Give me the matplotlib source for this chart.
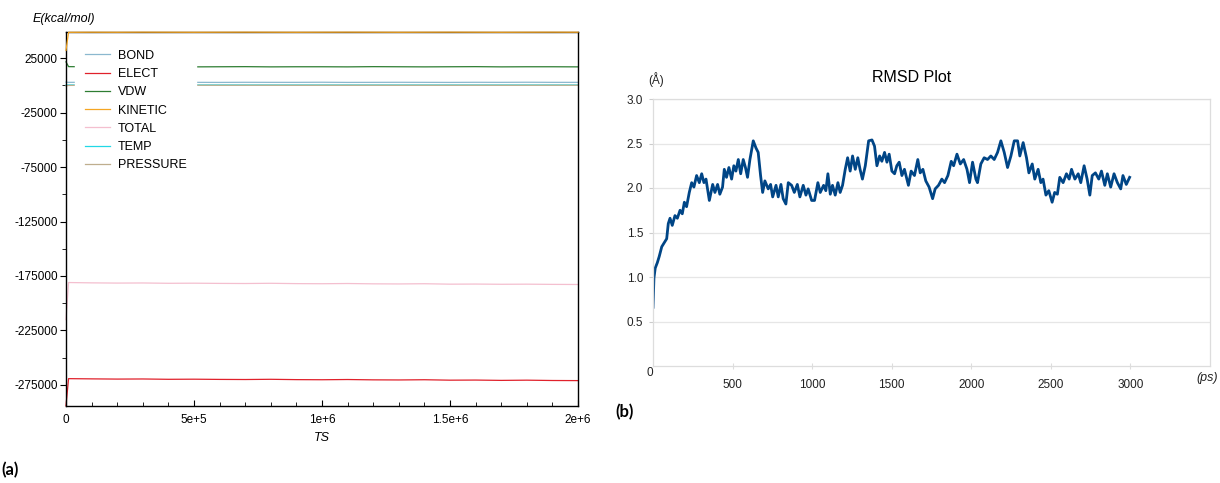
import numpy as np
import matplotlib
matplotlib.use('Agg')
import matplotlib.pyplot as plt

plt.rcParams['font.family'] = ['Liberation Sans', 'DejaVu Sans']
plt.rcParams['axes.unicode_minus'] = False

# (a) NAMD energies vs timestep
ts = [0, 10000, 100000, 200000, 300000, 400000, 500000, 600000, 700000, 800000,
      900000, 1000000, 1100000, 1200000, 1300000, 1400000, 1500000, 1600000,
      1700000, 1800000, 1900000, 2000000]
bond = [2900, 2700, 2750, 2650, 2700, 2800, 2700, 2650, 2750, 2700, 2700,
        2800, 2650, 2700, 2750, 2700, 2650, 2750, 2700, 2800, 2700, 2700]
elect = [-294000, -269200, -269400, -269600, -269500, -269800, -269700, -269900,
         -270000, -269800, -270100, -270200, -270000, -270300, -270400, -270200,
         -270600, -270500, -270800, -270600, -270900, -271000]
vdw = [21500, 17100, 17000, 16900, 17100, 17000, 16900, 17000, 17100, 16900, 17000,
       17000, 16900, 17100, 17000, 16900, 17000, 17100, 16900, 17000, 17000, 16900]
kinetic = [32000, 48600, 48700, 48650, 48750, 48700, 48650, 48700, 48750, 48700, 48650,
           48700, 48750, 48700, 48650, 48700, 48750, 48700, 48650, 48700, 48750, 48700]
total = [-215000, -181000, -181300, -181500, -181400, -181700, -181600, -181800,
         -181900, -181700, -182000, -182100, -181900, -182200, -182300, -182100,
         -182500, -182400, -182600, -182500, -182700, -182800]
temp = [200, 300, 305, 298, 302, 300, 297, 303, 300, 299, 301,
        300, 298, 302, 300, 301, 299, 300, 302, 298, 300, 301]
pressure = [-600, -120, 10, -30, 20, -10, 30, -20, 0, 15, -25,
            10, -5, 20, -15, 5, -10, 25, -20, 0, 10, -5]

series_names = ['BOND', 'ELECT', 'VDW', 'KINETIC', 'TOTAL', 'TEMP', 'PRESSURE']
series_vals = [bond, elect, vdw, kinetic, total, temp, pressure]
series_cols = ['#8bb8cf', '#e0212b', '#2e7d32', '#f5a623', '#f4bfcf', '#22d8e6', '#bfae8e']

# (b) RMSD vs time (ps, Angstrom)
rmsd_t = [0, 6, 14, 27, 39, 55, 69, 86, 96, 107, 121, 138, 153, 170, 184, 197, 211,
          228, 243, 257, 274, 291, 306, 320, 333, 354, 375, 389, 406, 420, 437, 448,
          462, 477, 494, 508, 521, 536, 551, 567, 581, 594, 609, 630, 647, 661, 676,
          689, 703, 724, 739, 752, 773, 787, 804, 818, 835, 850, 871, 888, 907, 923,
          944, 961, 975, 997,
          1015, 1036, 1051, 1072, 1086, 1099, 1114, 1128, 1145, 1162, 1176, 1191,
          1208, 1223, 1239, 1254, 1271, 1287, 1301, 1316, 1334, 1355, 1376, 1392,
          1407, 1424, 1438, 1455, 1470, 1484, 1501, 1518, 1532, 1547, 1564, 1580,
          1605, 1622, 1643, 1664, 1679, 1696, 1714, 1735, 1757, 1773, 1794, 1815,
          1832, 1853, 1874, 1889, 1910, 1931, 1952, 1973, 1989, 2008, 2029,
          2039, 2060, 2081, 2102, 2123, 2144, 2165, 2186, 2207, 2228, 2249, 2270,
          2291, 2305, 2326, 2347, 2362, 2383, 2399, 2420, 2437, 2451, 2469, 2487,
          2508, 2524, 2541, 2556, 2577, 2598, 2615, 2630, 2651, 2672, 2688, 2709,
          2728, 2745, 2760, 2780, 2801, 2818, 2839, 2855, 2876, 2897, 2918, 2939,
          2953, 2974, 2995]
rmsd = [0.66, 0.99, 1.10, 1.16, 1.23, 1.34, 1.38, 1.43, 1.60, 1.66, 1.58, 1.69, 1.66,
        1.75, 1.71, 1.84, 1.79, 1.95, 2.06, 2.01, 2.14, 2.06, 2.16, 2.06, 2.10, 1.86,
        2.04, 1.95, 2.04, 1.93, 2.01, 2.21, 2.12, 2.23, 2.10, 2.25, 2.19, 2.32, 2.16,
        2.32, 2.23, 2.12, 2.32, 2.53, 2.45, 2.40, 2.14, 1.95, 2.08, 1.99, 2.04, 1.90,
        2.03, 1.90, 2.04, 1.88, 1.82, 2.06, 2.03, 1.95, 2.04, 1.90, 2.03, 1.92, 1.99,
        1.86,
        1.86, 2.06, 1.95, 2.03, 1.97, 2.16, 1.93, 2.03, 1.92, 2.06, 1.95, 2.03,
        2.21, 2.34, 2.19, 2.36, 2.21, 2.34, 2.21, 2.10, 2.25, 2.53, 2.54, 2.47,
        2.25, 2.36, 2.30, 2.40, 2.29, 2.38, 2.19, 2.16, 2.25, 2.29, 2.14, 2.21,
        2.03, 2.19, 2.14, 2.32, 2.17, 2.21, 2.08, 2.01, 1.88, 1.99, 2.03, 2.10,
        2.06, 2.14, 2.30, 2.25, 2.38, 2.27, 2.32, 2.21, 2.06, 2.29, 2.10,
        2.06, 2.27, 2.34, 2.32, 2.36, 2.32, 2.40, 2.53, 2.40, 2.23, 2.36, 2.53,
        2.53, 2.36, 2.51, 2.34, 2.17, 2.27, 2.10, 2.21, 2.06, 2.10, 1.92, 1.97,
        1.84, 1.95, 1.93, 2.12, 2.06, 2.16, 2.10, 2.21, 2.10, 2.16, 2.06, 2.25,
        2.10, 1.92, 2.14, 2.17, 2.10, 2.19, 2.03, 2.16, 2.01, 2.16, 2.06, 1.99,
        2.14, 2.04, 2.12]
rmsd_yticks = [0.5, 1.0, 1.5, 2.0, 2.5, 3.0]
rmsd_xticks = [500, 1000, 1500, 2000, 2500, 3000]

W, H = 1220, 483
fig = plt.figure(figsize=(W / 100, H / 100), dpi=100)

# ---- left panel
ax1 = fig.add_axes([66 / W, 1 - 406 / H, (578 - 66) / W, (406 - 32) / H])
for name, vals, col in zip(series_names, series_vals, series_cols):
    z = 3 if name == 'KINETIC' else 2
    ax1.plot(ts, vals, color=col, lw=0.9, label=name, zorder=z, clip_on=False)
ax1.set_xlim(0, 2000000)
ax1.set_ylim(-294300, 48900)
ax1.set_xticks([0, 500000, 1000000, 1500000, 2000000])
ax1.set_xticklabels(['0', '5e+5', '1e+6', '1.5e+6', '2e+6'])
ax1.set_xticks(np.arange(0, 2000001, 100000), minor=True)
ax1.set_yticks([25000, -25000, -75000, -125000, -175000, -225000, -275000])
ax1.set_yticks([0, -50000, -100000, -150000, -200000, -250000], minor=True)
ax1.tick_params(axis='x', which='both', direction='in', labelsize=8.5, pad=6)
ax1.tick_params(axis='x', which='major', length=4)
ax1.tick_params(axis='x', which='minor', length=3)
ax1.tick_params(axis='y', which='major', direction='out', length=4, labelsize=8.5, pad=2)
ax1.tick_params(axis='y', which='minor', direction='out', length=3)
for s in ax1.spines.values():
    s.set_linewidth(1.0)
leg = ax1.legend(loc='upper left', bbox_to_anchor=(0.0176, 0.979), fontsize=9,
                 frameon=True, framealpha=1, facecolor='white', edgecolor='white',
                 handlelength=2.0, handletextpad=0.6, labelspacing=0.5,
                 borderpad=0.8, borderaxespad=0.0)
fig.text(33 / W, 1 - 19 / H, 'E(kcal/mol)', fontsize=9, style='italic',
         ha='left', va='center')
fig.text(322 / W, 1 - 438 / H, 'TS', fontsize=9, style='italic', ha='center', va='center')

# ---- right panel
ax2 = fig.add_axes([653 / W, 1 - 366 / H, (1210 - 653) / W, (366 - 99) / H])
ax2.plot(rmsd_t, rmsd, color='#004586', lw=2.0)
ax2.set_xlim(0, 3500)
ax2.set_ylim(0, 3)
ax2.set_yticks(rmsd_yticks)
ax2.set_yticklabels(['%.1f' % v for v in rmsd_yticks])
ax2.set_xticks(rmsd_xticks)
ax2.grid(axis='y', color='#e6e6e6', lw=0.9)
ax2.set_axisbelow(True)
for s in ax2.spines.values():
    s.set_color('#dddddd')
    s.set_linewidth(0.9)
ax2.tick_params(axis='y', direction='out', length=3, color='#cccccc', labelsize=8.5,
                pad=4, labelcolor='#222222')
ax2.tick_params(axis='x', direction='inout', length=4, color='#dddddd', labelsize=8.5,
                pad=7, labelcolor='#222222')
ax2.annotate('0', xy=(0, 0), xytext=(-3, -7), textcoords='offset pixels',
             ha='center', va='center', fontsize=8.5, color='#222222')
fig.text(656 / W, 1 - 80 / H, '(Å)', fontsize=8.5, ha='center', va='center', color='#222222')
fig.text(1207 / W, 1 - 378 / H, '(ps)', fontsize=9, style='italic', ha='center',
         va='center', color='#222222')
fig.text(912 / W, 1 - 78 / H, 'RMSD Plot', fontsize=11.5, ha='center', va='center')

# panel labels
fig.text(1 / W, 1 - 470 / H, '(a)', fontsize=12, fontweight='bold',
         family=['Lato', 'DejaVu Sans'], ha='left', va='center')
fig.text(615 / W, 1 - 412 / H, '(b)', fontsize=12, fontweight='bold',
         family=['Lato', 'DejaVu Sans'], ha='left', va='center')

fig.savefig('out.png', dpi=100)
